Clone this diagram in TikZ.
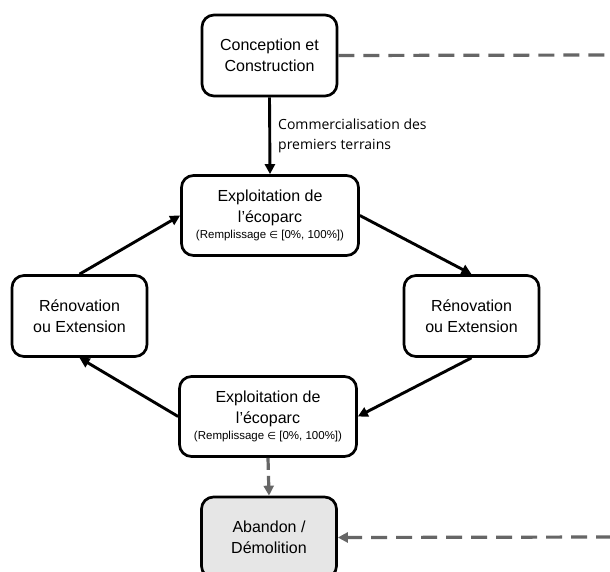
\documentclass[tikz,border=0pt]{standalone}
\usepackage{fontspec}
\setmainfont{Liberation Sans}
\newfontfamily\labfont{Open Sans}
\newfontfamily\symfont{DejaVu Sans}
\usetikzlibrary{arrows.meta}
\definecolor{dgray}{HTML}{666666}
\definecolor{boxgray}{HTML}{E6E6E6}
\tikzset{
  box/.style={draw=black, line width=2.7pt, rounded corners=12pt, align=center,
    inner sep=0pt, font=\fontsize{16}{21}\selectfont, fill=white},
  smallbox/.style={box, minimum width=135pt, minimum height=81pt},
  widebox/.style={box, minimum width=177pt, minimum height=80pt},
  flow/.style={line width=2.9pt, draw=black, -{Triangle[length=10pt,width=10pt]}},
  dflow/.style={line width=3.2pt, draw=dgray, dash pattern=on 16pt off 9pt},
  dflowarrow/.style={dflow, -{Triangle[length=10pt,width=10pt]}},
  lab/.style={anchor=west, align=left, inner sep=0pt, font=\labfont\fontsize{14}{20}\selectfont},
}
\newcommand{\smalltext}{{\fontsize{11.5}{13}\selectfont(Remplissage {\symfont\fontsize{10}{13}\selectfont ∈} [0\%, 100\%])}}
\begin{document}
\begin{tikzpicture}[x=1pt,y=-1pt]
\useasboundingbox[fill=white] (0,0) rectangle (610,572);
\node[smallbox] (conc) at (269.5,55.5) {Conception et\\Construction};
\node[widebox] (exp1) at (270,215.5) {Exploitation de\\l’écoparc\\[-5pt]\smalltext};
\node[smallbox] (renL) at (79.5,316) {Rénovation\\ou Extension};
\node[smallbox] (renR) at (471.5,316) {Rénovation\\ou Extension};
\node[widebox] (exp2) at (268,416.5) {Exploitation de\\l’écoparc\\[-5pt]\smalltext};
\node[smallbox, fill=boxgray] (aband) at (269,537.5) {Abandon /\\Démolition};
\coordinate (r1) at (612,55);
\coordinate (r2) at (612,537);
\draw[flow] (conc.south) -- node[lab, xshift=7pt] {Commercialisation des\\premiers terrains} (exp1.north);
\draw[flow] (exp1.east) -- (renR.north);
\draw[flow] (renR.south) -- (exp2.east);
\draw[flow] (exp2.west) -- (renL.south);
\draw[flow] (renL.north) -- (exp1.west);
\draw[dflowarrow, dash pattern=on 12pt off 6pt] (exp2.south) -- (aband.north);
\draw[dflow] (conc.east) -- (r1);
\draw[dflowarrow] (r2) -- (aband.east);
\end{tikzpicture}
\end{document}
